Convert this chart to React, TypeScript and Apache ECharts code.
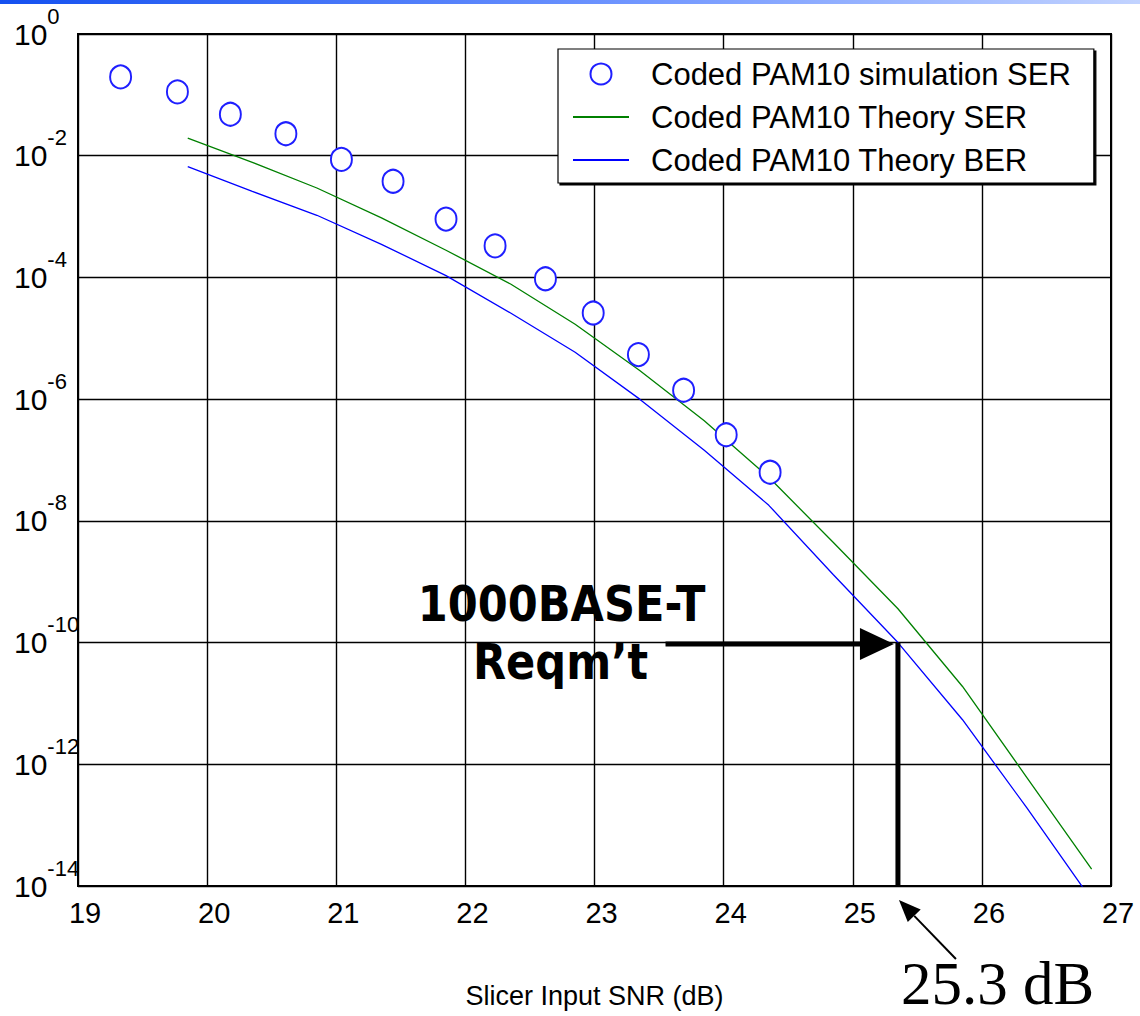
import React, { useEffect, useRef } from "react";
import * as echarts from "echarts";

// ---- data ----
const SIM_SNR = [19.33, 19.77, 20.18, 20.61, 21.04, 21.44, 21.85, 22.23, 22.62, 22.99, 23.34, 23.69, 24.02, 24.36];
const SIM_SER = [1.97e-1, 1.12e-1, 4.8e-2, 2.3e-2, 8.7e-3, 3.8e-3, 9.1e-4, 3.3e-4, 9.5e-5, 2.6e-5, 5.4e-6, 1.4e-6, 2.6e-7, 6.3e-8];

const THEORY_SNR = [19.85, 20.35, 20.85, 21.35, 21.85, 22.35, 22.85, 23.35, 23.85, 24.35, 24.85, 25.35, 25.85, 26.35, 26.85];
const THEORY_SER = [1.95e-2, 7.8e-3, 2.95e-3, 9.5e-4, 2.8e-4, 7.8e-5, 1.7e-5, 2.95e-6, 4.4e-7, 5.2e-8, 4.4e-9, 3.6e-10, 1.9e-11, 6.0e-13, 1.9e-14];
const THEORY_BER = [6.6e-3, 2.6e-3, 1.05e-3, 3.5e-4, 1.07e-4, 2.6e-5, 5.9e-6, 1.0e-6, 1.45e-7, 1.8e-8, 1.3e-9, 1.0e-10, 5.4e-12, 1.9e-13, 5.9e-15];

const SERIES_NAMES = ["Coded PAM10 simulation SER", "Coded PAM10 Theory SER", "Coded PAM10 Theory BER"];
const X_AXIS_NAME = "Slicer Input SNR (dB)";
const X_MIN = 19;
const X_MAX = 27;
const Y_MIN = 1e-14;
const Y_MAX = 1;

// annotation anchors (data space)
const REQ_SNR = 25.35;
const REQ_BER = 1e-10;
const ARROW_START_SNR = 23.55;
const REQ_LABEL_LINES = ["1000BASE-T", "Reqm\u2019t"];
const REQ_SNR_LABEL = "25.3 dB";

const SANS = "'Liberation Sans', Arial, Helvetica, sans-serif";

export default function App() {
  const ref = useRef<HTMLDivElement>(null);

  useEffect(() => {
    if (!ref.current) return;
    const chart = echarts.init(ref.current, null, { renderer: "svg" });

    const option: any = {
      animation: false,
      backgroundColor: "#fff",
      grid: {
        left: 78,
        right: 29,
        top: 34,
        bottom: 130,
        show: true,
        borderColor: "#000",
        borderWidth: 2,
        backgroundColor: "transparent",
      },
      legend: {
        orient: "vertical",
        left: 558,
        top: 49,
        padding: [9, 23, 7, 14],
        itemWidth: 56,
        itemHeight: 21,
        itemGap: 11,
        selectedMode: false,
        backgroundColor: "#fff",
        borderColor: "#000",
        borderWidth: 1.2,
        borderRadius: 0,
        shadowColor: "#000",
        shadowBlur: 0,
        shadowOffsetX: 2,
        shadowOffsetY: 2,
        textStyle: {
          fontFamily: SANS,
          fontSize: 31,
          lineHeight: 32,
          color: "#000",
          padding: [0, 0, 0, 17],
        },
        data: [
          { name: SERIES_NAMES[0] },
          { name: SERIES_NAMES[1], itemStyle: { opacity: 0 } },
          { name: SERIES_NAMES[2], itemStyle: { opacity: 0 } },
        ],
      },
      xAxis: {
        type: "value",
        min: X_MIN,
        max: X_MAX,
        interval: 1,
        name: X_AXIS_NAME,
        nameLocation: "middle",
        nameGap: 96,
        nameTextStyle: { fontFamily: SANS, fontSize: 27, color: "#000" },
        axisLine: { show: true, lineStyle: { color: "#000", width: 2 } },
        axisTick: { show: false },
        axisLabel: {
          fontFamily: SANS,
          fontSize: 29,
          color: "#000",
          margin: 12,
          padding: [0, 0, 0, 14],
        },
        splitLine: { show: true, lineStyle: { color: "#000", width: 1.4 } },
      },
      yAxis: {
        type: "log",
        logBase: 100,
        min: Y_MIN,
        max: Y_MAX,
        splitNumber: 7,
        axisLine: { show: true, lineStyle: { color: "#000", width: 2 } },
        axisTick: { show: false },
        minorTick: { show: false },
        axisLabel: {
          align: "left",
          margin: 64,
          formatter: (v: number) => {
            const e = Math.round(Math.log10(v));
            return `{b|10}{s|${e}}`;
          },
          rich: {
            b: { fontFamily: SANS, fontSize: 30, lineHeight: 30, color: "#000" },
            s: { fontFamily: SANS, fontSize: 22, lineHeight: 22, color: "#000", padding: [0, 0, 36, 0] },
          },
        },
        splitLine: { show: true, lineStyle: { color: "#000", width: 1.4 } },
      },
      series: [
        {
          name: SERIES_NAMES[0],
          type: "scatter",
          symbol: "emptyCircle",
          symbolSize: [21, 23],
          itemStyle: { color: "#1f1fff", borderColor: "#1f1fff", borderWidth: 1.4, opacity: 1 },
          z: 3,
          data: SIM_SNR.map((x, i) => [x, SIM_SER[i]]),
        },
        {
          name: SERIES_NAMES[1],
          type: "line",
          symbol: "none",
          color: "#008000",
          lineStyle: { color: "#008000", width: 1.3 },
          data: THEORY_SNR.map((x, i) => [x, THEORY_SER[i]]),
        },
        {
          name: SERIES_NAMES[2],
          type: "line",
          symbol: "none",
          color: "#0000ff",
          lineStyle: { color: "#0000ff", width: 1.3 },
          data: THEORY_SNR.map((x, i) => [x, THEORY_BER[i]]),
        },
      ],
    };

    chart.setOption(option);

    const finder = { xAxisIndex: 0, yAxisIndex: 0 };
    const [vx, vy] = chart.convertToPixel(finder, [REQ_SNR, REQ_BER]) as number[];
    const [, bottomY] = chart.convertToPixel(finder, [REQ_SNR, Y_MIN]) as number[];
    const [sx] = chart.convertToPixel(finder, [ARROW_START_SNR, REQ_BER]) as number[];
    const ay = vy + 1.5;
    const tipX = vx - 4;

    // slanted arrow
    const tip = [vx + 1, bottomY + 14];
    const tail = [vx + 58, bottomY + 73];
    const dx = tail[0] - tip[0];
    const dy = tail[1] - tip[1];
    const len = Math.hypot(dx, dy);
    const ux = dx / len;
    const uy = dy / len;
    const headLen = 22;
    const headHalf = 9;
    const base = [tip[0] + ux * headLen, tip[1] + uy * headLen];

    chart.setOption({
      graphic: [
        {
          type: "rect",
          shape: { x: 0, y: 0, width: 1140, height: 4 },
          style: {
            fill: {
              type: "linear",
              x: 0,
              y: 0,
              x2: 1,
              y2: 0,
              colorStops: [
                { offset: 0, color: "#1450f0" },
                { offset: 0.55, color: "#6f95ff" },
                { offset: 1, color: "#c2d3ff" },
              ],
            },
          },
          silent: true,
        },
        {
          type: "line",
          shape: { x1: sx, y1: ay, x2: tipX - 30, y2: ay },
          style: { stroke: "#000", lineWidth: 5 },
          z: 10,
        },
        {
          type: "polygon",
          shape: { points: [[tipX - 34, ay - 16], [tipX, ay], [tipX - 34, ay + 16]] },
          style: { fill: "#000" },
          z: 10,
        },
        {
          type: "line",
          shape: { x1: vx, y1: vy, x2: vx, y2: bottomY },
          style: { stroke: "#000", lineWidth: 5 },
          z: 10,
        },
        {
          type: "text",
          x: sx - 104,
          y: ay - 40,
          scaleX: 0.88,
          style: {
            text: REQ_LABEL_LINES[0],
            fontFamily: "'DejaVu Sans', Verdana, sans-serif",
            fontWeight: "bold",
            fontSize: 49,
            fill: "#000",
            align: "center",
            verticalAlign: "middle",
          },
          z: 10,
        },
        {
          type: "text",
          x: sx - 105,
          y: ay + 18,
          scaleX: 0.88,
          style: {
            text: REQ_LABEL_LINES[1],
            fontFamily: "'DejaVu Sans', Verdana, sans-serif",
            fontWeight: "bold",
            fontSize: 49,
            fill: "#000",
            align: "center",
            verticalAlign: "middle",
          },
          z: 10,
        },
        {
          type: "line",
          shape: { x1: tail[0], y1: tail[1], x2: base[0], y2: base[1] },
          style: { stroke: "#000", lineWidth: 2 },
          z: 10,
        },
        {
          type: "polygon",
          shape: {
            points: [
              tip,
              [base[0] - uy * headHalf, base[1] + ux * headHalf],
              [base[0] + uy * headHalf, base[1] - ux * headHalf],
            ],
          },
          style: { fill: "#000" },
          z: 10,
        },
        {
          type: "text",
          x: vx + 3,
          y: bottomY + 97,
          style: {
            text: REQ_SNR_LABEL,
            fontFamily: "'Liberation Serif', 'Times New Roman', serif",
            fontSize: 61,
            lineHeight: 56,
            fill: "#000",
            align: "left",
            verticalAlign: "middle",
          },
          z: 10,
        },
      ],
    });

    return () => chart.dispose();
  }, []);

  return (
    <div
      ref={ref}
      style={{ position: "fixed", left: 0, top: 0, width: 1140, height: 1016, background: "#fff" }}
    />
  );
}
